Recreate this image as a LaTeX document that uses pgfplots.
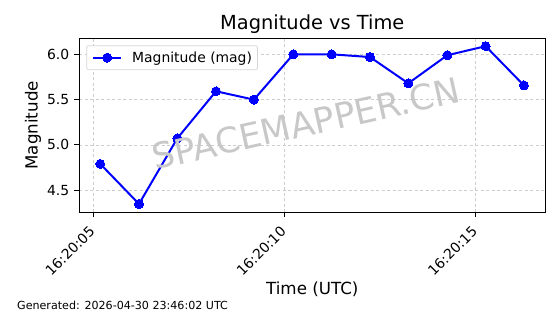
\documentclass[border=0pt]{standalone}
\usepackage{pgfplots}
\pgfplotsset{compat=1.18}
\usepackage{fontspec}
\setmainfont{DejaVu Sans}
\definecolor{gridc}{RGB}{205,205,205}
\definecolor{wm}{RGB}{200,200,200}
\definecolor{legc}{RGB}{214,214,214}
\begin{document}
\begin{tikzpicture}[x=1pt,y=1pt]
\useasboundingbox (0,0) rectangle (560,314);
\begin{axis}[
  at={(79.3pt,101.7pt)}, anchor=south west,
  width=466pt, height=174pt, scale only axis,
  xmin=4.634, xmax=16.82, ymin=4.256, ymax=6.177,
  xtick={5,10,15},
  xticklabels={16:20:05,16:20:10,16:20:15},
  ytick={4.5,5,5.5,6},
  /pgf/number format/fixed, /pgf/number format/fixed zerofill, /pgf/number format/precision=1,
  /pgf/number format/assume math mode=true,
  tick label style={font=\fontsize{13.9}{16}\selectfont},
  xticklabel style={rotate=45, anchor=north east, inner sep=0pt, xshift=-9pt, yshift=-2pt},
  yticklabel style={inner sep=0pt, xshift=-5pt},
  major tick length=4.9pt,
  tick style={black, line width=1.1pt},
  tick align=outside, xtick pos=bottom, ytick pos=left,
  axis line style={line width=1.1pt},
  grid=major,
  grid style={gridc, dash pattern=on 3pt off 2.5pt, line width=0.8pt},
  title={Magnitude vs Time},
  title style={font=\fontsize{19.4}{22}\selectfont, at={(0.5,1)}, anchor=south, yshift=-3pt, inner sep=2pt},
  xlabel={Time (UTC)},
  ylabel={Magnitude},
  label style={font=\fontsize{16.7}{19}\selectfont},
  xlabel style={at={(0.5,0)}, anchor=center, yshift=-77pt},
  ylabel style={at={(axis description cs:-0.0994,0.5)}, anchor=center},
  legend style={at={(axis description cs:0.015,0.96)}, anchor=north west, draw=legc, rounded corners=2pt,
    font=\fontsize{13.9}{16}\selectfont, inner xsep=5.6pt, inner ysep=5pt, line width=0.8pt,
    nodes={inner sep=0pt}},
  legend cell align=left,
  legend image code/.code={
    \path[draw=none, fill=none] (0pt,-7pt) rectangle (38.9pt,7pt);
    \draw[#1, mark repeat=2, mark phase=2] plot coordinates {(0pt,0pt) (13.9pt,0pt) (27.8pt,0pt)};},
]
\addplot[color=blue, line width=2pt, mark=*, mark size=4.5pt, mark options={fill=blue, draw=blue, line width=0pt}]
 coordinates {
 (5.183,4.79) (6.195,4.348) (7.197,5.073) (8.209,5.592) (9.200,5.50)
 (10.230,6.00) (11.234,6.00) (12.236,5.97) (13.237,5.68) (14.257,5.99)
 (15.260,6.09) (16.260,5.657)
 };
\addlegendentry{Magnitude (mag)}
\end{axis}
\node[rotate=12.5, text=wm, font=\fontsize{35}{40}\selectfont, inner sep=0pt] at (306,190.5) {SPACEMAPPER.CN};
\node[anchor=west, font=\fontsize{11.1}{13}\selectfont, inner sep=0pt] at (17,9) {Generated: 2026-04-30 23:46:02 UTC};
\end{tikzpicture}
\end{document}
